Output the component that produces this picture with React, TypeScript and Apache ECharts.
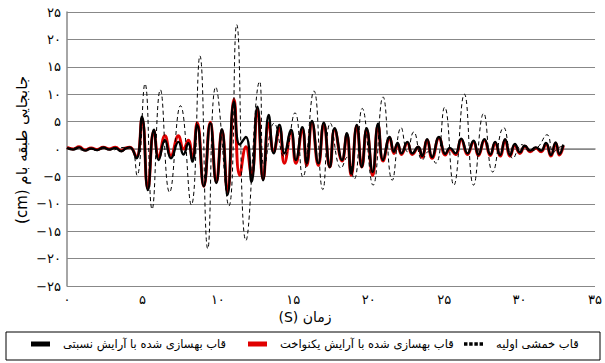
import React, { useEffect, useRef } from 'react';
import * as echarts from 'echarts';

const xTicks = [0, 5, 10, 15, 20, 25, 30, 35];
const yTicks = [-25, -20, -15, -10, -5, 0, 5, 10, 15, 20, 25];

const nameProportional = 'قاب بهسازی شده با آرایش نسبتی';
const nameUniform = 'قاب بهسازی شده با آرایش یکنواخت';
const nameInitial = 'قاب خمشی اولیه';
const xTitle = 'زمان (S)';
const yTitle = 'جابجایی طبقه بام (cm)';

// time (s), roof displacement (cm)
const proportional: [number, number][] = [
  [0, 0.2], [0.4, -0.1], [0.8, 0.3], [1.2, -0.3], [1.6, 0.1], [2.0, -0.2], [2.4, 0.3], [2.8, -0.1],
  [3.2, 0.2], [3.6, -0.4], [3.9, 0.1], [4.17, 0.3],
  [4.6, -1.7], [4.97, 5.9], [5.36, -7.5], [5.76, 3.5], [6.08, -2.0], [6.49, 1.6], [6.89, -1.7],
  [7.39, 1.3], [7.72, -1.0], [8.04, 1.1], [8.31, -2.3], [8.63, 4.4], [9.07, -6.8], [9.5, 4.7],
  [9.9, -6.2], [10.27, 3.6], [10.64, -8.4], [11.07, 8.6], [11.45, 0.8], [11.86, 2.2], [12.23, -6.0],
  [12.62, 7.7], [13.0, -5.7], [13.37, 6.2], [13.7, -0.8], [14.08, 4.4], [14.41, -0.8], [14.85, 3.5],
  [15.17, -2.0], [15.6, 4.0], [15.89, -2.6], [16.24, 5.1], [16.66, -2.6], [17.02, 4.8], [17.42, -3.3],
  [17.74, 3.8], [18.23, -2.0], [18.55, 2.9], [18.84, -4.5], [19.21, 4.4], [19.54, -3.3], [19.86, 3.8],
  [20.26, -4.2], [20.62, 4.6], [20.95, -2.0], [21.39, 2.2], [21.67, -0.5], [21.91, 1.1], [22.17, -0.8],
  [22.56, 1.3], [22.89, -0.8], [23.28, 0.4], [23.54, -1.3], [23.87, 1.8], [24.2, -1.5], [24.66, 2.2],
  [25.08, -0.9], [25.38, 0.2], [25.75, -0.8], [26.13, 1.9], [26.55, -0.8], [26.95, 1.5], [27.27, -1.0],
  [27.67, 1.8], [28.06, -1.0], [28.38, 1.3], [28.71, -1.1], [29.04, 1.8], [29.37, -1.1], [29.69, 0.9],
  [30.02, -0.6], [30.35, 0.6], [30.71, -0.3], [31.07, 0.3], [31.43, -0.3], [31.75, 1.1], [32.08, -1.1],
  [32.39, 1.2], [32.64, -0.9], [32.9, 0.8],
];

const uniform: [number, number][] = [
  [0, 0.3], [0.4, 0.0], [0.8, 0.4], [1.2, -0.2], [1.6, 0.2], [2.0, -0.1], [2.4, 0.3], [2.8, 0.0],
  [3.2, 0.3], [3.6, -0.3], [3.9, 0.2], [4.17, 0.3],
  [4.6, -1.5], [4.97, 5.5], [5.36, -7.2], [5.76, 3.3], [6.08, -1.5], [6.49, 2.4], [6.89, -1.2],
  [7.39, 2.4], [7.72, 0.0], [8.04, 1.6], [8.31, -1.8], [8.63, 4.8], [9.07, -6.8], [9.5, 4.9],
  [9.9, -6.0], [10.27, 3.4], [10.64, -7.8], [11.07, 9.1], [11.45, -4.8], [11.86, 0.4], [12.23, -4.8],
  [12.62, 7.2], [13.0, -5.5], [13.37, 4.7], [13.7, -0.5], [14.08, 3.8], [14.41, -2.6], [14.85, 3.0],
  [15.17, -2.6], [15.6, 3.6], [15.89, -3.0], [16.24, 4.8], [16.66, -3.0], [17.02, 4.5], [17.42, -3.3],
  [17.74, 3.5], [18.23, -2.2], [18.55, 2.6], [18.84, -4.8], [19.21, 4.2], [19.54, -3.3], [19.86, 3.5],
  [20.26, -4.8], [20.62, 4.3], [20.95, -2.2], [21.39, 2.0], [21.67, -0.8], [21.91, 0.9], [22.17, -1.0],
  [22.56, 1.1], [22.89, -1.0], [23.28, 0.3], [23.54, -1.5], [23.87, 1.6], [24.2, -1.7], [24.66, 2.0],
  [25.08, -1.1], [25.38, 0.0], [25.75, -1.0], [26.13, 1.7], [26.55, -1.0], [26.95, 1.3], [27.27, -1.2],
  [27.67, 1.6], [28.06, -1.2], [28.38, 1.1], [28.71, -1.3], [29.04, 1.6], [29.37, -1.3], [29.69, 0.7],
  [30.02, -0.8], [30.35, 0.5], [30.71, -0.5], [31.07, 0.2], [31.43, -0.5], [31.75, 0.9], [32.08, -1.3],
  [32.39, 1.0], [32.64, -1.1], [32.9, 0.6],
];

const initial: [number, number][] = [
  [0, 0.1], [0.5, 0.2], [1.0, -0.2], [1.5, 0.1], [2.0, -0.3], [2.5, 0.1], [3.0, -0.2], [3.5, 0.2],
  [4.0, 0.3], [4.3, 0.2],
  [4.64, -4.8], [5.17, 11.9], [5.64, -11.0], [6.19, 10.8], [6.8, -7.9], [7.52, 7.9], [8.24, -10.2],
  [8.81, 17.0], [9.33, -18.2], [9.86, 11.3], [10.73, -10.4], [11.25, 22.7], [11.86, -16.7],
  [12.77, 12.3], [13.08, -3.3], [13.73, 4.7], [14.39, -1.4], [15.11, 6.6], [15.63, -5.1],
  [16.37, 10.6], [16.96, -7.4], [17.46, 4.7], [18.18, -3.5], [18.57, -1.5], [19.03, -5.5],
  [19.57, 7.4], [20.29, -6.6], [20.95, 9.5], [21.56, -5.7], [22.15, 3.9], [22.56, -0.5],
  [22.98, 3.1], [23.56, -2.0], [23.94, -0.5], [24.44, -2.6], [25.03, 7.6], [25.64, -6.6],
  [26.34, 10.0], [26.95, -6.6], [27.62, 6.5], [28.22, -4.2], [28.95, 3.9], [29.56, -1.7],
  [30.15, 0.8], [30.67, -0.4], [31.2, 0.3], [31.82, 2.6], [32.24, -0.6], [32.57, 0.2], [32.83, 0.5],
];

const FA_DIGITS = '۰۱۲۳۴۵۶۷۸۹';
const toFa = (v: number) =>
  (v < 0 ? '−' : '') + String(Math.abs(v)).replace(/\d/g, (d) => FA_DIGITS[Number(d)]);

// right-to-left embedding so mixed Persian/Latin titles lay out as in the source
const rtl = (s: string) => '\u202B' + s + '\u202C';

const FONT = 'DejaVu Sans';

export default function App() {
  const ref = useRef<HTMLDivElement>(null);
  useEffect(() => {
    if (!ref.current) return;
    const chart = echarts.init(ref.current, null, { renderer: 'svg' });
    const legendCommon = {
      top: 338,
      orient: 'horizontal' as const,
      padding: 0,
      itemWidth: 19,
      itemHeight: 5,
      itemGap: 0,
      textStyle: { fontFamily: FONT, fontSize: 11.5, color: '#000', padding: [0, 0, 0, 8] },
      selectedMode: false,
    };
    chart.setOption({
      animation: false,
      backgroundColor: '#fff',
      grid: { left: 67, right: 2, top: 12, bottom: 77, containLabel: false },
      xAxis: {
        type: 'value',
        min: 0,
        max: 35,
        interval: 5,
        axisLine: { show: true, lineStyle: { color: '#888', width: 1.5 } },
        axisTick: { show: false },
        splitLine: { show: false },
        axisLabel: {
          formatter: (v: number) => (xTicks.includes(v) ? toFa(v) : ''),
          fontFamily: FONT,
          fontSize: 13,
          color: '#000',
          margin: 7,
        },
      },
      yAxis: {
        type: 'value',
        min: yTicks[0],
        max: yTicks[yTicks.length - 1],
        interval: 5,
        axisLine: { show: true, lineStyle: { color: '#888', width: 1.5 } },
        axisTick: { show: false },
        splitLine: { show: true, lineStyle: { color: '#888', width: 1.2 } },
        axisLabel: {
          formatter: (v: number) => toFa(v),
          fontFamily: FONT,
          fontSize: 13,
          color: '#000',
          margin: 6,
        },
      },
      legend: [
        { ...legendCommon, left: 31, data: [{ name: nameProportional, icon: 'rect' }] },
        { ...legendCommon, left: 248, data: [{ name: nameUniform, icon: 'rect' }] },
        {
          ...legendCommon,
          left: 464,
          data: [
            {
              name: nameInitial,
              icon: 'path://M0,0h3v3h-3z M4.5,0h3v3h-3z M9,0h3v3h-3z M13.5,0h3v3h-3z',
              itemStyle: { color: '#000' },
            },
          ],
        },
      ],
      graphic: [
        {
          type: 'rect',
          shape: { x: 6, y: 332, width: 594, height: 28 },
          style: { fill: 'none', stroke: '#000', lineWidth: 1 },
          silent: true,
        },
        {
          type: 'text',
          x: 22,
          y: 150,
          rotation: Math.PI / 2,
          style: {
            text: rtl(yTitle),
            font: `15px "${FONT}"`,
            fill: '#000',
            align: 'center',
            verticalAlign: 'middle',
          },
        },
        {
          type: 'text',
          x: 305,
          y: 317,
          style: {
            text: rtl(xTitle),
            font: `14px "${FONT}"`,
            fill: '#000',
            align: 'center',
            verticalAlign: 'middle',
          },
        },
      ],
      series: [
        {
          name: nameUniform,
          type: 'line',
          data: uniform,
          smooth: 0.5,
          showSymbol: false,
          lineStyle: { color: '#e00000', width: 3 },
          itemStyle: { color: '#e00000' },
          z: 2,
        },
        {
          name: nameProportional,
          type: 'line',
          data: proportional,
          smooth: 0.5,
          showSymbol: false,
          lineStyle: { color: '#000', width: 2.4 },
          itemStyle: { color: '#000' },
          z: 3,
        },
        {
          name: nameInitial,
          type: 'line',
          data: initial,
          smooth: 0.5,
          showSymbol: false,
          lineStyle: { color: '#000', width: 1, type: [4, 3] },
          itemStyle: { color: '#000' },
          z: 4,
        },
      ],
    });
    return () => chart.dispose();
  }, []);
  return (
    <div
      ref={ref}
      style={{ position: 'fixed', left: 0, top: 0, width: 605, height: 363, background: '#fff' }}
    />
  );
}
